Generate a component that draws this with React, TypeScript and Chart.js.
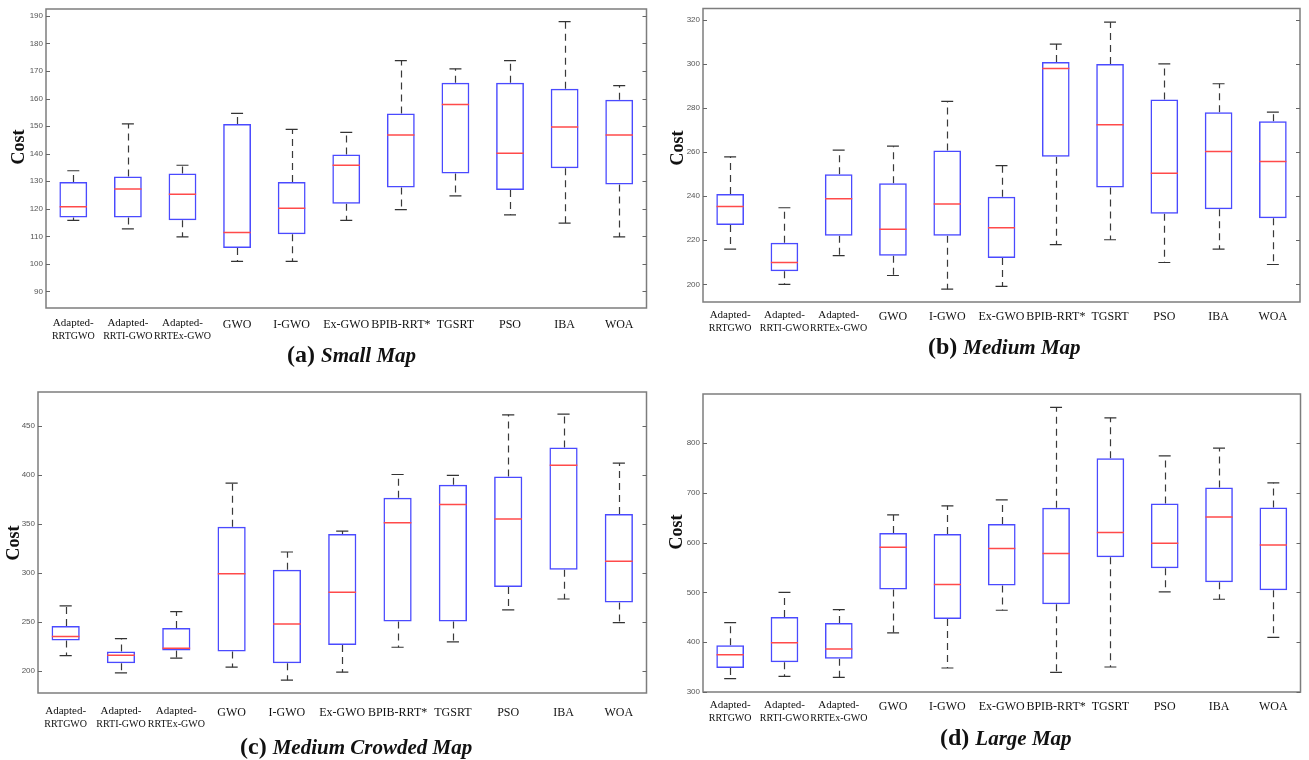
import React, { useEffect, useRef } from 'react';
import { Chart, registerables } from 'chart.js';

Chart.register(...registerables);

const categories = ['Adapted-RRTGWO', 'Adapted-RRTI-GWO', 'Adapted-RRTEx-GWO', 'GWO', 'I-GWO', 'Ex-GWO', 'BPIB-RRT*', 'TGSRT', 'PSO', 'IBA', 'WOA'];
const labelTop = ['Adapted-', 'Adapted-', 'Adapted-', 'GWO', 'I-GWO', 'Ex-GWO', 'BPIB-RRT*', 'TGSRT', 'PSO', 'IBA', 'WOA'];
const labelBottom = ['RRTGWO', 'RRTI-GWO', 'RRTEx-GWO', '', '', '', '', '', '', '', ''];

// (a) Small Map
const smallTicks = [90, 100, 110, 120, 130, 140, 150, 160, 170, 180, 190];
const smallLo = [115.8, 112.7, 109.8, 100.9, 100.9, 115.8, 119.7, 124.7, 117.8, 114.8, 109.8];
const smallQ1 = [116.8, 116.8, 115.8, 105.8, 110.8, 121.8, 127.7, 132.8, 126.8, 134.7, 128.8];
const smallMed = [120.7, 127.2, 125.3, 111.4, 120.2, 135.8, 146.8, 157.8, 140.2, 149.7, 146.8];
const smallQ3 = [129.7, 131.7, 132.8, 150.8, 129.7, 139.7, 154.6, 165.7, 165.7, 163.6, 159.6];
const smallHi = [133.8, 150.8, 135.8, 154.6, 148.8, 147.7, 173.8, 170.8, 173.8, 187.9, 164.7];

// (b) Medium Map
const mediumTicks = [200, 220, 240, 260, 280, 300, 320];
const mediumLo = [216, 200, 213, 204, 197.8, 199.1, 218, 220.2, 209.9, 216, 209];
const mediumQ1 = [226.9, 205.9, 222, 213, 222, 211.9, 257.8, 243.9, 232, 234, 229.9];
const mediumMed = [235.3, 209.9, 238.8, 225, 236.4, 225.6, 297.8, 272.3, 250.3, 260.2, 255.7];
const mediumQ3 = [240.9, 218.8, 249.9, 245.8, 260.7, 239.7, 300.8, 299.9, 283.8, 278, 273.9];
const mediumHi = [257.8, 234.7, 260.8, 262.6, 282.9, 253.8, 308.9, 318.8, 299.9, 290.9, 278];

// (c) Medium Crowded Map
const crowdedTicks = [200, 250, 300, 350, 400, 450];
const crowdedLo = [215.3, 197.6, 212.6, 203.4, 190.1, 198.3, 223.8, 229.3, 262, 273.2, 249];
const crowdedQ1 = [230.7, 207.5, 220.4, 219.4, 207.5, 226.2, 250.1, 250.1, 285.5, 303.2, 269.5];
const crowdedMed = [234.7, 215.7, 222.8, 299.1, 247.7, 280, 351.2, 370, 355, 410.1, 311.7];
const crowdedQ3 = [245.6, 219.4, 243.6, 347.1, 303.2, 339.6, 376.8, 390.1, 398.6, 428.2, 360.1];
const crowdedHi = [266.1, 232.7, 260.3, 391.8, 321.3, 342.7, 400.6, 399.6, 461.6, 462.3, 412.2];

// (d) Large Map
const largeTicks = [300, 400, 500, 600, 700, 800];
const largeLo = [326.8, 331.5, 329.4, 418.5, 348.2, 464, 339.5, 350.2, 500.8, 486.1, 409.8];
const largeQ1 = [348.2, 359.6, 366.9, 505.5, 446.6, 513.5, 476, 570.4, 548.3, 520.2, 504.2];
const largeMed = [375, 399, 386.3, 590.5, 515.5, 587.8, 577.8, 620, 598.5, 651.4, 595.2];
const largeQ3 = [393.7, 450.6, 438.6, 619.3, 617.3, 637.3, 669.5, 769.2, 678.2, 710.3, 670.1];
const largeHi = [439.2, 500.1, 465.3, 655.4, 673.5, 685.5, 871, 850.2, 773.9, 789.3, 719.7];

const yTitle = 'Cost';

const BLUE = '#4a4aff';
const RED = '#ff4a4a';
const SERIF = '"Liberation Serif", "Times New Roman", Times, serif';
const SANS = 'Arial, "Liberation Sans", sans-serif';

type PanelCfg = {
  lo: number[]; q1: number[]; med: number[]; q3: number[]; hi: number[]; ticks: number[];
  yMin: number; yMax: number;
  left: number; top: number; width: number; height: number;
  padTop: number; padRight: number; padBottom: number; axisW: number;
  labelOff: number; costX: number; costY: number;
};

const panels: PanelCfg[] = [
  { lo: smallLo, q1: smallQ1, med: smallMed, q3: smallQ3, hi: smallHi, ticks: smallTicks, yMin: 84, yMax: 192.5,
    left: 0, top: 0, width: 655, height: 375, padTop: 9, padRight: 8, padBottom: 67, axisW: 46, labelOff: 15, costX: 19, costY: 147 },
  { lo: mediumLo, q1: mediumQ1, med: mediumMed, q3: mediumQ3, hi: mediumHi, ticks: mediumTicks, yMin: 192, yMax: 325,
    left: 655, top: 0, width: 654, height: 375, padTop: 6, padRight: 9, padBottom: 73, axisW: 48, labelOff: 13, costX: 23, costY: 148 },
  { lo: crowdedLo, q1: crowdedQ1, med: crowdedMed, q3: crowdedQ3, hi: crowdedHi, ticks: crowdedTicks, yMin: 177, yMax: 485,
    left: 0, top: 375, width: 655, height: 385, padTop: 17, padRight: 6, padBottom: 67, axisW: 38, labelOff: 18, costX: 14, costY: 168 },
  { lo: largeLo, q1: largeQ1, med: largeMed, q3: largeQ3, hi: largeHi, ticks: largeTicks, yMin: 300, yMax: 898,
    left: 655, top: 375, width: 654, height: 385, padTop: 19, padRight: 6, padBottom: 68, axisW: 48, labelOff: 13, costX: 22, costY: 157 },
];

const captions = [
  { tag: '(a)', name: 'Small Map', x: 287, y: 354 },
  { tag: '(b)', name: 'Medium Map', x: 928, y: 346 },
  { tag: '(c)', name: 'Medium Crowded Map', x: 240, y: 746 },
  { tag: '(d)', name: 'Large Map', x: 940, y: 737 },
];

function halfBox(chart: any, frac: number) {
  const a = chart.chartArea;
  if (!a) return 7;
  return ((a.right - a.left) / categories.length) * frac;
}

function BoxPanel({ cfg }: { cfg: PanelCfg }) {
  const ref = useRef<HTMLCanvasElement>(null);
  useEffect(() => {
    const canvas = ref.current!;
    const plugin = {
      id: 'matlabBox',
      beforeDatasetsDraw(chart: any) {
        const { ctx, scales: { x, y } } = chart;
        ctx.save();
        ctx.strokeStyle = '#3a3a3a';
        ctx.lineWidth = 1.2;
        ctx.setLineDash([7, 5]);
        for (let i = 0; i < categories.length; i++) {
          const px = Math.round(x.getPixelForValue(i)) + 0.5;
          ctx.beginPath();
          ctx.moveTo(px, y.getPixelForValue(cfg.q3[i]));
          ctx.lineTo(px, y.getPixelForValue(cfg.hi[i]));
          ctx.moveTo(px, y.getPixelForValue(cfg.q1[i]));
          ctx.lineTo(px, y.getPixelForValue(cfg.lo[i]));
          ctx.stroke();
        }
        ctx.restore();
      },
      afterDraw(chart: any) {
        const { ctx, chartArea: a, scales: { x, y } } = chart;
        ctx.save();
        ctx.strokeStyle = '#7d7d7d';
        ctx.lineWidth = 1.5;
        ctx.strokeRect(a.left, a.top, a.right - a.left, a.bottom - a.top);
        ctx.strokeStyle = '#666';
        ctx.lineWidth = 1;
        y.ticks.forEach((t: any) => {
          const py = Math.round(y.getPixelForValue(t.value)) + 0.5;
          ctx.beginPath();
          ctx.moveTo(a.left, py);
          ctx.lineTo(a.left + 4, py);
          ctx.moveTo(a.right - 4, py);
          ctx.lineTo(a.right, py);
          ctx.stroke();
        });
        ctx.fillStyle = '#111';
        ctx.textAlign = 'center';
        ctx.textBaseline = 'middle';
        for (let i = 0; i < categories.length; i++) {
          const px = x.getPixelForValue(i);
          if (labelBottom[i]) {
            ctx.font = `11px ${SERIF}`;
            ctx.fillText(labelTop[i], px, a.bottom + cfg.labelOff);
            ctx.font = `10px ${SERIF}`;
            ctx.fillText(labelBottom[i], px, a.bottom + cfg.labelOff + 13.5);
          } else {
            ctx.font = `12px ${SERIF}`;
            ctx.fillText(labelTop[i], px, a.bottom + cfg.labelOff + 2);
          }
        }
        ctx.translate(cfg.costX, cfg.costY);
        ctx.rotate(-Math.PI / 2);
        ctx.font = `bold 18px ${SERIF}`;
        ctx.fillText(yTitle, 0, 0);
        ctx.restore();
      },
    };

    const chart = new Chart(canvas, {
      type: 'bar',
      data: {
        labels: categories,
        datasets: [
          {
            type: 'bar',
            data: cfg.q1.map((v, i) => [v, cfg.q3[i]]) as any,
            backgroundColor: 'rgba(255,255,255,0)',
            borderColor: BLUE,
            borderWidth: 1.5,
            borderSkipped: false,
            barPercentage: 0.51,
            categoryPercentage: 1,
            order: 3,
          } as any,
          {
            type: 'line',
            data: cfg.med,
            showLine: false,
            pointStyle: 'line',
            pointRadius: (c: any) => halfBox(c.chart, 0.25),
            pointBorderColor: RED,
            pointBorderWidth: 1.5,
            borderColor: RED,
            order: 1,
          } as any,
          {
            type: 'line',
            data: cfg.hi,
            showLine: false,
            pointStyle: 'line',
            pointRadius: (c: any) => halfBox(c.chart, 0.11),
            pointBorderColor: '#333',
            pointBorderWidth: 1.2,
            borderColor: '#333',
            order: 2,
          } as any,
          {
            type: 'line',
            data: cfg.lo,
            showLine: false,
            pointStyle: 'line',
            pointRadius: (c: any) => halfBox(c.chart, 0.11),
            pointBorderColor: '#333',
            pointBorderWidth: 1.2,
            borderColor: '#333',
            order: 2,
          } as any,
        ],
      },
      options: {
        animation: false,
        responsive: false,
        maintainAspectRatio: false,
        layout: { padding: { left: 0, top: cfg.padTop, right: cfg.padRight, bottom: cfg.padBottom } },
        plugins: { legend: { display: false }, tooltip: { enabled: false } },
        scales: {
          x: { display: false, offset: true },
          y: {
            min: cfg.yMin,
            max: cfg.yMax,
            afterBuildTicks: (s: any) => {
              s.ticks = cfg.ticks.map((v) => ({ value: v }));
            },
            ticks: {
              callback: (v: any) => String(v),
              font: { family: SANS, size: 8 },
              color: '#555',
              padding: 3,
            },
            grid: { display: false, drawTicks: false },
            border: { display: false },
            afterFit: (s: any) => { s.width = cfg.axisW; },
          },
        },
      } as any,
      plugins: [plugin],
    });
    return () => chart.destroy();
  }, [cfg]);

  return (
    <canvas
      ref={ref}
      width={cfg.width}
      height={cfg.height}
      style={{ position: 'absolute', left: cfg.left, top: cfg.top, width: cfg.width, height: cfg.height }}
    />
  );
}

export default function App() {
  return (
    <div style={{ position: 'absolute', left: 0, top: 0, width: 1309, height: 760, background: '#fff', overflow: 'hidden' }}>
      {panels.map((p, i) => (
        <BoxPanel key={i} cfg={p} />
      ))}
      {captions.map((c) => (
        <div
          key={c.tag}
          style={{
            position: 'absolute',
            left: c.x,
            top: c.y - 15,
            height: 30,
            display: 'flex',
            alignItems: 'baseline',
            whiteSpace: 'nowrap',
            fontFamily: SERIF,
            color: '#111',
            lineHeight: '30px',
          }}
        >
          <span style={{ fontWeight: 'bold', fontSize: 24 }}>{c.tag}</span>
          <span style={{ fontWeight: 'bold', fontStyle: 'italic', fontSize: 21, marginLeft: 6 }}>{c.name}</span>
        </div>
      ))}
    </div>
  );
}
